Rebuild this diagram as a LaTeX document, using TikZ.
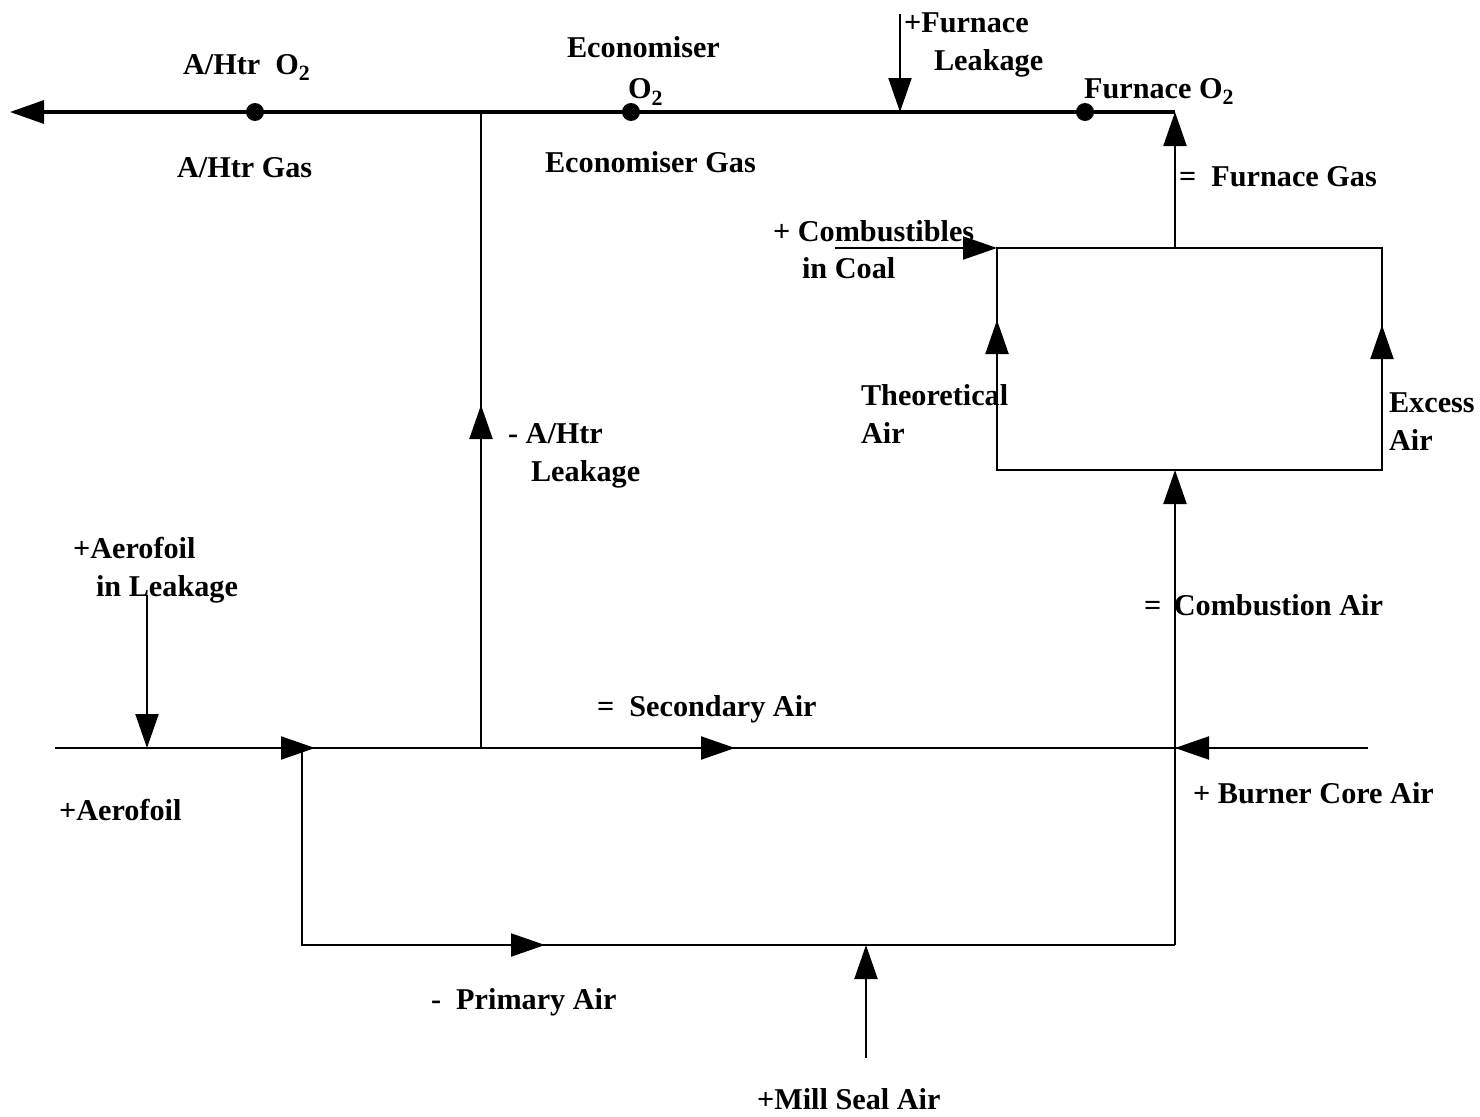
\documentclass[tikz,border=0pt]{standalone}
\usepackage{fontspec}
\setmainfont{Liberation Serif}
\usetikzlibrary{arrows.meta}

\newcommand{\osub}{O\raisebox{-0.45ex}{\fontsize{6.2}{7}\selectfont 2}}

\begin{document}
\begin{tikzpicture}[
                line width=0.6pt,
                flow/.style={-{Triangle[length=3.4mm,width=2.3mm]}},
                lbl/.style={anchor=base west,inner sep=0pt,font=\fontsize{8.6}{10.8}\selectfont\bfseries},
                probe/.style={fill=black,circle,inner sep=0pt,minimum size=1.8mm}] %

\useasboundingbox (0,0) rectangle (14.8,-11.17);

                    % gas side
                    \coordinate (gasOut) at (0.10,-1.12);
                    \coordinate (ahJ) at (4.81,-1.12);
                    \coordinate (flkIn) at (9.00,-0.14);
                    \coordinate (flkJ) at (9.00,-1.12);
                    \coordinate (fgTop) at (11.75,-1.12);
                    \coordinate (fgBot) at (11.75,-2.48);

                    \node[probe] (ahDot) at (2.55,-1.12) {};
                    \node[probe] (ecoDot) at (6.31,-1.12) {};
                    \node[probe] (furDot) at (10.85,-1.12) {};

                    % furnace box
                    \coordinate (boxTL) at (9.97,-2.48);
                    \coordinate (boxTR) at (13.82,-2.48);
                    \coordinate (boxBL) at (9.97,-4.70);
                    \coordinate (boxBR) at (13.82,-4.70);
                    \coordinate (boxB) at (11.75,-4.70);
                    \coordinate (thTip) at (9.97,-3.20);
                    \coordinate (exTip) at (13.82,-3.25);
                    \coordinate (cbIn) at (8.35,-2.48);

                    % air side
                    \coordinate (aeIn) at (0.55,-7.48);
                    \coordinate (alIn) at (1.47,-5.95);
                    \coordinate (alJ) at (1.47,-7.48);
                    \coordinate (paJ) at (3.02,-7.48);
                    \coordinate (aeTip) at (3.15,-7.48);
                    \coordinate (ahB) at (4.81,-7.48);
                    \coordinate (ahTip) at (4.81,-4.05);
                    \coordinate (saTip) at (7.35,-7.48);
                    \coordinate (caJ) at (11.75,-7.48);
                    \coordinate (bcIn) at (13.68,-7.48);
                    \coordinate (paC) at (3.02,-9.45);
                    \coordinate (paTip) at (5.45,-9.45);
                    \coordinate (msJ) at (8.66,-9.45);
                    \coordinate (msIn) at (8.66,-10.58);
                    \coordinate (caB) at (11.75,-9.45);

                    % gas line
                    \draw[flow,line width=0.9pt] (fgTop) -- (gasOut);
                    \draw[flow] (fgBot) -- (fgTop);
                    \draw[flow] (flkIn) -- (flkJ);
                    \draw (ahB) -- (ahJ);
                    \draw[flow] (ahB) -- (ahTip);

                    % box
                    \draw (boxTL) -- (boxTR) -- (boxBR) -- (boxBL) -- cycle;
                    \draw[flow] (boxBL) -- (thTip);
                    \draw[flow] (boxBR) -- (exTip);
                    \draw[flow] (cbIn) -- (boxTL);

                    % secondary / primary air
                    \draw[flow] (aeIn) -- (aeTip);
                    \draw (aeTip) -- (bcIn);
                    \draw[flow] (paJ) -- (saTip);
                    \draw[flow] (bcIn) -- (caJ);
                    \draw[flow] (alIn) -- (alJ);
                    \draw (paJ) -- (paC) -- (caB);
                    \draw[flow] (paC) -- (paTip);
                    \draw[flow] (caB) -- (boxB);
                    \draw[flow] (msIn) -- (msJ);

                    % labels
                    \node[lbl] (ahO) at (1.82,-0.74) {A/Htr\ \ \osub};
                    \node[lbl] (ahGas) at (1.76,-1.77) {A/Htr Gas};
                    \node[lbl] (ecoA) at (5.66,-0.58) {Economiser};
                    \node[lbl] (ecoB) at (6.27,-0.99) {\osub};
                    \node[lbl] (ecoGas) at (5.44,-1.72) {Economiser Gas};
                    \node[lbl] (flkA) at (9.03,-0.32) {+Furnace};
                    \node[lbl] (flkB) at (9.33,-0.70) {Leakage};
                    \node[lbl] (furO) at (10.83,-0.98) {Furnace \osub};
                    \node[lbl] (furGas) at (11.78,-1.86) {=\ \ Furnace Gas};
                    \node[lbl] (cbA) at (7.72,-2.41) {+ Combustibles};
                    \node[lbl] (cbB) at (8.01,-2.79) {in Coal};
                    \node[lbl] (thA) at (8.60,-4.05) {Theoretical};
                    \node[lbl] (thB) at (8.60,-4.43) {Air};
                    \node[lbl] (exA) at (13.88,-4.12) {Excess};
                    \node[lbl] (exB) at (13.88,-4.50) {Air};
                    \node[lbl] (ahlA) at (5.07,-4.43) {- A/Htr};
                    \node[lbl] (ahlB) at (5.30,-4.81) {Leakage};
                    \node[lbl] (alA) at (0.72,-5.58) {+Aerofoil};
                    \node[lbl] (alB) at (0.95,-5.96) {in Leakage};
                    \node[lbl] (caLbl) at (11.43,-6.15) {=\ \,Combustion Air};
                    \node[lbl] (saLbl) at (5.96,-7.16) {=\ \ Secondary Air};
                    \node[lbl] (aeLbl) at (0.58,-8.20) {+Aerofoil};
                    \node[lbl] (bcLbl) at (11.92,-8.03) {+ Burner Core Air};
                    \node[lbl] (paLbl) at (4.30,-10.09) {-\ \ Primary Air};
                    \node[lbl] (msLbl) at (7.56,-11.09) {+Mill Seal Air};

\end{tikzpicture}
\end{document}
